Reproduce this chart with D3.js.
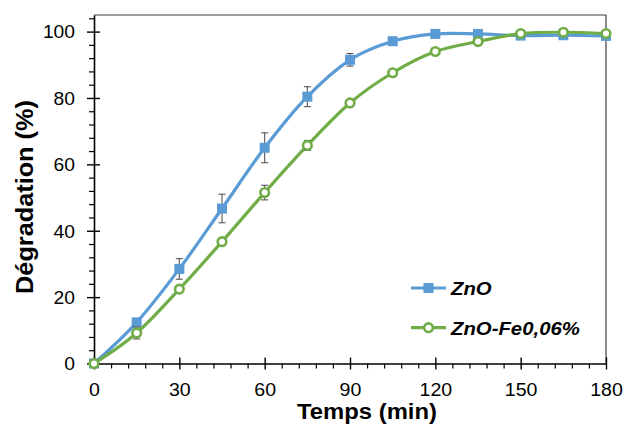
<!DOCTYPE html>
<html><head><meta charset="utf-8">
<script src="https://cdn.jsdelivr.net/npm/d3@7"></script>
<style>
html,body{margin:0;padding:0;background:#fff;}
svg{display:block;font-family:"Liberation Sans",Arial,sans-serif;}
</style></head><body>
<svg id="chart" width="626" height="425"></svg>
<script>
const times = [0,15,30,45,60,75,90,105,120,135,150,165,180];
const znO = [0,12.4,28.5,46.7,65.0,80.4,91.5,97.1,99.3,99.3,98.8,98.9,98.7];
const znOErr = [0,1.0,3.1,4.3,4.5,3.0,1.9,0.8,0.5,0.3,0.3,0.3,0.3];
const znOFe = [0,9.2,22.4,36.7,51.5,65.7,78.5,87.6,94.0,97.0,99.4,99.8,99.4];
const znOFeErr = [0,1.8,0.8,0.8,2.2,1.5,0.8,0.5,0.5,0.5,0.3,0.3,0.3];
const xTicks = [0,30,60,90,120,150,180];
const yTicks = [0,20,40,60,80,100];
const xMinor = d3.range(0,181,6).filter(v => v % 30 !== 0);
const yMinor = d3.range(0,105,4).filter(v => v % 20 !== 0);
const seriesNames = ["ZnO","ZnO-Fe0,06%"];
const xTitle = "Temps (min)";
const yTitle = "Dégradation (%)";

const blue = "#5B9BD5", green = "#70AD47";
const L = 94, R = 606, T = 15, B = 363.5;
const svg = d3.select("#chart");
const x = d3.scaleLinear().domain([0,180]).range([L,R]);
const y = d3.scaleLinear().domain([0,105]).range([B,T]);

// frame (top & right)
svg.append("path").attr("d",`M${L},${T}H${R}V${B}`).attr("fill","none").attr("stroke","#404040").attr("stroke-width",1.2);

// Y axis
const gy = svg.append("g").attr("transform",`translate(${L},0)`);
gy.call(d3.axisLeft(y).tickValues(yTicks).tickSize(7).tickSizeOuter(0));
gy.select(".domain").attr("stroke","#000").attr("stroke-width",1.6);
gy.selectAll(".tick line").attr("stroke","#000").attr("stroke-width",1.4);
gy.selectAll(".tick text").attr("x",0).attr("dy","0.36em")
  .attr("transform","translate(-19,0) scale(1.1,1)")
  .attr("font-size","17.5px").attr("fill","#000").attr("font-family","Liberation Sans, Arial, sans-serif");
const gy2 = svg.append("g").attr("transform",`translate(${L},0)`)
  .call(d3.axisRight(y).tickValues(yTicks).tickSize(6).tickFormat(""));
gy2.select(".domain").remove();
gy2.selectAll(".tick line").attr("stroke","#000").attr("stroke-width",1.4);
const gy3 = svg.append("g").attr("transform",`translate(${L},0)`)
  .call(d3.axisLeft(y).tickValues(yMinor).tickSize(5).tickFormat(""));
gy3.select(".domain").remove();
gy3.selectAll(".tick line").attr("stroke","#000").attr("stroke-width",1.2);

// X axis
const gx = svg.append("g").attr("transform",`translate(0,${B})`);
gx.call(d3.axisBottom(x).tickValues(xTicks).tickSize(6).tickSizeOuter(0));
gx.select(".domain").attr("stroke","#000").attr("stroke-width",1.6);
gx.selectAll(".tick line").attr("stroke","#000").attr("stroke-width",1.4);
gx.selectAll(".tick text").attr("y",32.3).attr("dy","0")
  .attr("transform","scale(1.12,1)")
  .attr("font-size","17.5px").attr("fill","#000").attr("font-family","Liberation Sans, Arial, sans-serif");
const gx2 = svg.append("g").attr("transform",`translate(0,${B})`)
  .call(d3.axisTop(x).tickValues(xTicks).tickSize(6).tickFormat(""));
gx2.select(".domain").remove();
gx2.selectAll(".tick line").attr("stroke","#000").attr("stroke-width",1.4);
const gx3 = svg.append("g").attr("transform",`translate(0,${B})`)
  .call(d3.axisBottom(x).tickValues(xMinor).tickSize(5).tickFormat(""));
gx3.select(".domain").remove();
gx3.selectAll(".tick line").attr("stroke","#000").attr("stroke-width",1.2);

// titles
svg.append("text").attr("transform",`translate(367,419.3) scale(1.06,1)`)
  .attr("text-anchor","middle").attr("font-weight","bold").attr("font-size","22.5px").text(xTitle);
svg.append("text").attr("transform",`translate(33,197) rotate(-90) scale(1.1,1)`)
  .attr("text-anchor","middle").attr("font-weight","bold").attr("font-size","23px").text(yTitle);

// series
const line = d3.line().x(d => x(d[0])).y(d => y(d[1])).curve(d3.curveCardinal.tension(0));
const dataA = times.map((t,i) => [t, znO[i], znOErr[i]]);
const dataB = times.map((t,i) => [t, znOFe[i], znOFeErr[i]]);

function errorBars(data){
  const g = svg.append("g").attr("stroke","#555").attr("stroke-width",1.1);
  data.filter(d => d[2] > 0).forEach(d => {
    const cx = x(d[0]), y1 = y(d[1]+d[2]), y2 = y(d[1]-d[2]);
    g.append("line").attr("x1",cx).attr("x2",cx).attr("y1",y1).attr("y2",y2);
    g.append("line").attr("x1",cx-3.5).attr("x2",cx+3.5).attr("y1",y1).attr("y2",y1);
    g.append("line").attr("x1",cx-3.5).attr("x2",cx+3.5).attr("y1",y2).attr("y2",y2);
  });
}

svg.append("path").datum(dataA).attr("d",line).attr("fill","none").attr("stroke",blue).attr("stroke-width",3.2);
errorBars(dataA);
svg.append("g").selectAll("rect").data(dataA).join("rect")
  .attr("x",d => x(d[0])-5).attr("y",d => y(d[1])-5).attr("width",10).attr("height",10).attr("fill",blue);

svg.append("path").datum(dataB).attr("d",line).attr("fill","none").attr("stroke",green).attr("stroke-width",3.2);
errorBars(dataB);
svg.append("g").selectAll("circle").data(dataB).join("circle")
  .attr("cx",d => x(d[0])).attr("cy",d => y(d[1])).attr("r",4.3)
  .attr("fill","#fff").attr("stroke",green).attr("stroke-width",2.6);

// legend
const leg = svg.append("g");
const legY = [288, 327.7];
[0,1].forEach(i => {
  const col = i === 0 ? blue : green;
  leg.append("line").attr("x1",411).attr("x2",446).attr("y1",legY[i]).attr("y2",legY[i]).attr("stroke",col).attr("stroke-width",3.2);
  if (i === 0) leg.append("rect").attr("x",428.5-5).attr("y",legY[i]-5).attr("width",10).attr("height",10).attr("fill",blue);
  else leg.append("circle").attr("cx",428.5).attr("cy",legY[i]).attr("r",4.3).attr("fill","#fff").attr("stroke",green).attr("stroke-width",2.6);
  leg.append("text").attr("transform",`translate(451,${legY[i]+6.8}) scale(1.1,1)`)
    .attr("font-weight","bold").attr("font-style","italic").attr("font-size","18.5px").text(seriesNames[i]);
});
</script>
</body></html>
